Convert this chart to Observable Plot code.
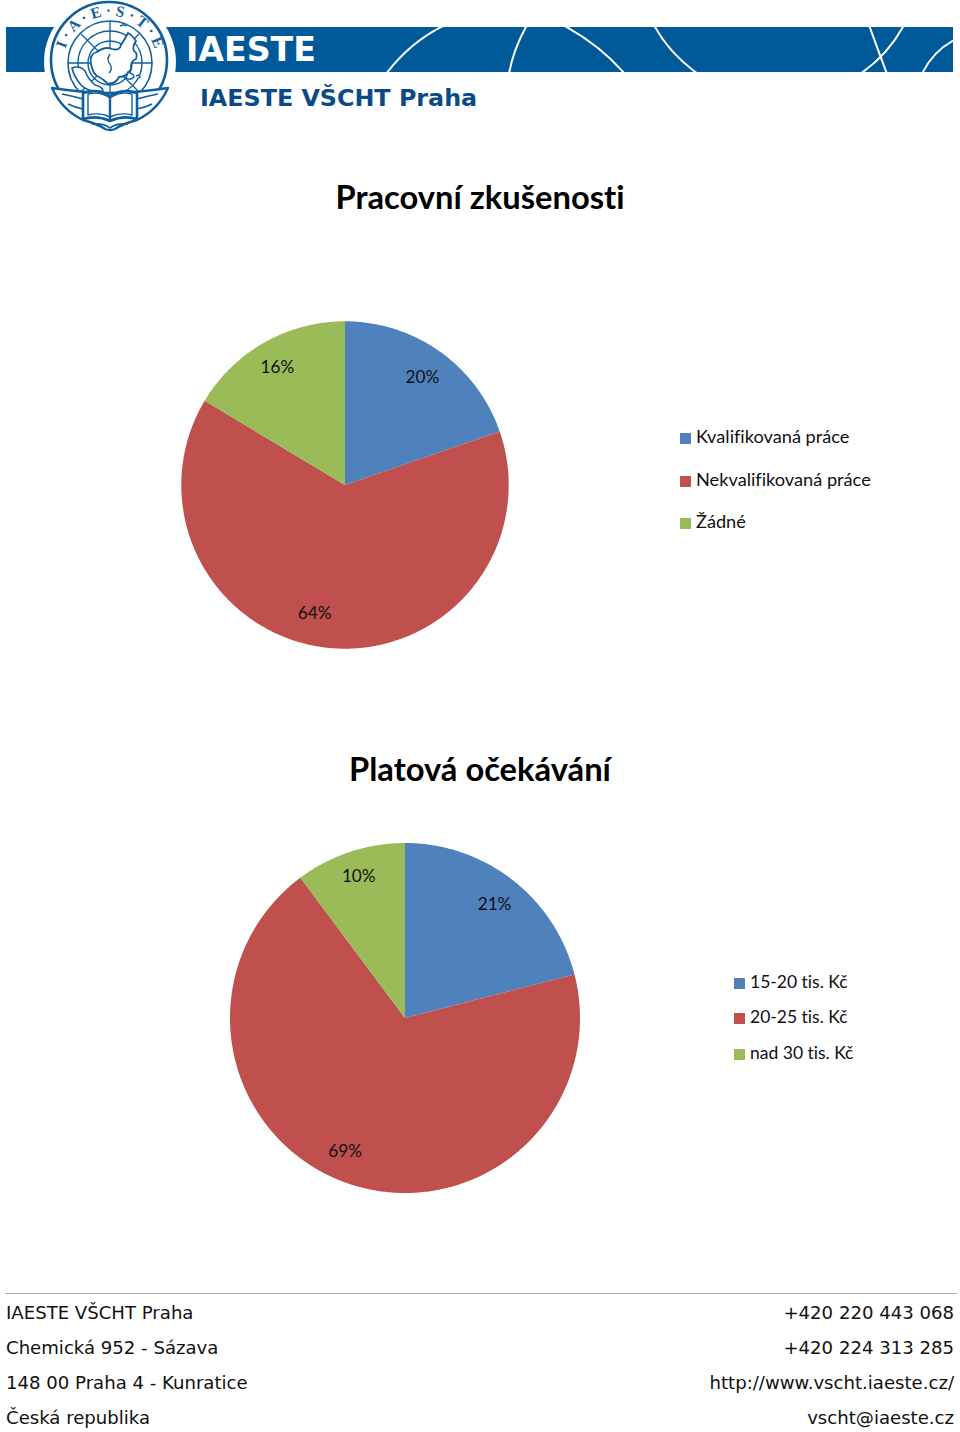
<!DOCTYPE html>
<html lang="cs">
<head>
<meta charset="utf-8">
<title>Pracovní zkušenosti</title>
<script src="https://cdn.jsdelivr.net/npm/d3@7"></script>
<script src="https://cdn.jsdelivr.net/npm/@observablehq/plot@0.6"></script>
<style>
html,body{margin:0;padding:0;background:#fff}
#page{position:relative;width:960px;height:1432px;overflow:hidden;font-variant-ligatures:none}
#page>*{position:absolute}
.title{left:0;width:960px;text-align:center;font:700 32.7px Lato,sans-serif;color:#000;line-height:40px;font-variant-ligatures:none}
.legend{font-family:Lato,sans-serif;color:#111;line-height:20px;white-space:nowrap;font-variant-ligatures:none}
.legend i{display:inline-block;width:11px;height:11px;margin-right:5px;vertical-align:-1px}
.foot{font:18.1px "DejaVu Sans",sans-serif;color:#111;line-height:24px;white-space:nowrap}
.r{right:6px;text-align:right}.l{left:6px}
svg text{font-variant-ligatures:none}
</style>
</head>
<body>
<div id="page">
<svg width="960" height="140" style="left:0;top:0" xmlns="http://www.w3.org/2000/svg">
  <defs>
    <clipPath id="band"><rect x="6" y="27" width="947" height="45"/></clipPath>
    <path id="ringtext" d="M 64 69 A 46.5 46.5 0 1 1 156 69"/>
  </defs>
  <rect x="6" y="27" width="947" height="45" fill="#005a9a"/>
  <g clip-path="url(#band)" fill="none" stroke="#fff" stroke-width="2">
    <path d="M386 74 Q410 42 445 25"/>
    <path d="M509 74 Q513 50 527 25"/>
    <path d="M563 25 Q600 45 625 74"/>
    <path d="M654 25 Q668 52 698 74"/>
    <path d="M869 25 Q878 50 887 74"/>
    <path d="M904 25 Q888 55 860 74"/>
    <path d="M954 40 Q932 52 922 74"/>
  </g>
  <circle cx="110" cy="62" r="66" fill="#fff"/>
  <g fill="none" stroke="#0f5f9f">
    <circle cx="109" cy="60" r="58" stroke-width="2.6"/>
    <circle cx="110" cy="63" r="42" stroke-width="1.6"/>
    <circle cx="110" cy="63" r="32" stroke-width="1.4"/>
    <circle cx="110" cy="63" r="22" stroke-width="1.4"/>
    <path d="M110 21V105M68 63H152M81 34L139 92M139 34L81 92" stroke-width="1.3"/>
    <path d="M91 64q-2-10 6-12q8-6 15-3q8 2 9 -4q4-6 7-12q4 2 8 8q-4 6 -2 10q4 2 2 8q-6 2 -5 10q-4 8 -12 8q-4 8 -12 6q-4-4 -8-6q-6-2 -8-13z" fill="#fff" stroke-width="1.8"/>
    <path d="M72 68q8 -3 13 3q3 8 10 14q8 2 8 6q-14 2 -22 -6q-7 -8 -9 -17z" fill="#fff" stroke-width="1.6"/>
    <path d="M128 72q6 2 6 5q-4 4 -8 1zM136 76q4 -2 4 2M120 26q4-2 7 0" fill="#fff" stroke-width="1.5"/>
    <path d="M110 54q-4 6 0 10q3 5 -1 9" stroke-width="1.4"/>
  </g>
  <text font-family="Liberation Serif" font-size="15.5" fill="#0f5f9f" font-weight="700"><textPath href="#ringtext" startOffset="50%" text-anchor="middle">I · A · E · S · T · E</textPath></text>
  <g fill="#fff" stroke="#0f5f9f" stroke-width="2.4" stroke-linejoin="round">
    <path d="M52 88Q85 93 110 93Q135 93 168 88Q158 110 137 120Q122 124 115 129Q110 131 105 129Q98 124 83 120Q62 110 52 88z"/>
    <path d="M62 94Q72 96 83 99M68 104Q76 108 83 109M158 94Q148 96 137 99M152 104Q144 108 137 109M92 124Q104 123 110 128Q116 123 128 124" fill="none" stroke-width="1.6"/>
    <path d="M83 93Q97 88 110 96Q123 88 137 93V119Q123 115 110 121Q97 115 83 119z" stroke-width="2.6"/>
    <path d="M88 94Q100 91 110 98Q120 91 132 94V115Q120 112 110 117Q100 112 88 115z" stroke-width="1.4"/>
    <path d="M110 96V121" stroke-width="2.4"/>
  </g>
  <text x="186" y="61" font-family="DejaVu Sans" font-weight="700" font-size="33.2" fill="#fff">IAESTE</text>
  <text x="200" y="105.5" font-family="DejaVu Sans" font-weight="700" font-size="23.8" fill="#0a4a86">IAESTE VŠCHT Praha</text>
</svg>
<div class="title" style="top:177px">Pracovní zkušenosti</div>
<div class="title" style="top:749px">Platová očekávání</div>
<div id="pie1" style="left:0;top:280px"></div>
<div id="pie2" style="left:0;top:820px"></div>
<div id="leg1"></div>
<div id="leg2"></div>
<div style="left:5px;top:1293px;width:952px;height:1px;background:#aaa"></div>
<div id="foot"></div>
</div>
<script>
const colors = ["#4f81bd", "#c0504d", "#9bbb59"];

const workCategories = ["Kvalifikovaná práce", "Nekvalifikovaná práce", "Žádné"];
const workValues = [19.7, 63.9, 16.4];

const salaryCategories = ["15-20 tis. Kč", "20-25 tis. Kč", "nad 30 tis. Kč"];
const salaryValues = [21.0, 68.8, 10.2];

const footerLeft = ["IAESTE VŠCHT Praha", "Chemická 952 - Sázava", "148 00 Praha 4 - Kunratice", "Česká republika"];
const footerRight = ["+420 220 443 068", "+420 224 313 285", "http://www.vscht.iaeste.cz/", "vscht@iaeste.cz"];

function pieChart(target, categories, values, o) {
  const arcs = d3.pie().sort(null)(values);
  const total = d3.sum(values);
  const outline = arcs.flatMap((a, i) => {
    const n = Math.ceil((a.endAngle - a.startAngle) / 0.01);
    return d3.range(n + 1).map(k => {
      const t = a.startAngle + (a.endAngle - a.startAngle) * k / n;
      return {category: categories[i], ex: Math.sin(t), ey: Math.cos(t)};
    });
  });
  const labels = arcs.map((a, i) => {
    const m = (a.startAngle + a.endAngle) / 2;
    return {
      text: `${Math.round(values[i] / total * 100)}%`,
      ex: o.labelRadius * Math.sin(m),
      ey: o.labelRadius * Math.cos(m),
      nudge: o.nudges[i]
    };
  });
  const chart = Plot.plot({
    width: 960,
    height: o.height,
    margin: 0,
    x: {domain: [-o.cx / o.r, (960 - o.cx) / o.r], range: [0, 960], axis: null},
    y: {domain: [-(o.height - o.cy) / o.r, o.cy / o.r], range: [o.height, 0], axis: null},
    color: {domain: categories, range: colors},
    marks: [
      Plot.area(outline, {
        x1: () => 0, y1: () => 0,
        x2: "ex", y2: "ey",
        fill: "category", z: "category", curve: "linear"
      }),
      ...labels.map(l => Plot.text([l], {
        x: "ex", y: "ey", text: "text",
        dx: l.nudge[0], dy: l.nudge[1],
        fontFamily: "Lato, sans-serif", fontSize: 17.2, fill: "#111"
      }))
    ]
  });
  document.getElementById(target).append(chart);
}

pieChart("pie1", workCategories, workValues, {
  height: 400, cx: 345, cy: 205, r: 163.7, labelRadius: 0.82,
  nudges: [[-1, 1], [-17, -6], [-2, -1]]
});
pieChart("pie2", salaryCategories, salaryValues, {
  height: 400, cx: 405, cy: 198, r: 175, labelRadius: 0.83,
  nudges: [[0, 1], [-12, -4], [-1, -4]]
});

function legend(target, categories, left, tops, size) {
  const host = document.getElementById(target);
  host.style.cssText = "left:0;top:0";
  categories.forEach((c, i) => {
    const row = document.createElement("div");
    row.className = "legend";
    row.style.cssText = `position:absolute;left:${left}px;top:${tops[i]}px;font-size:${size}px`;
    const sw = document.createElement("i");
    sw.style.background = colors[i];
    row.append(sw, c);
    host.append(row);
  });
}
legend("leg1", workCategories, 680, [426, 469, 511], 18.2);
legend("leg2", salaryCategories, 734, [972, 1007, 1043], 17.5);

const foot = document.getElementById("foot");
foot.style.cssText = "left:0;top:0;width:960px";
[[footerLeft, "l"], [footerRight, "r"]].forEach(([lines, side]) => {
  lines.forEach((t, i) => {
    const d = document.createElement("div");
    d.className = `foot ${side}`;
    d.style.cssText = `position:absolute;top:${1301 + 35 * i}px`;
    d.textContent = t;
    foot.append(d);
  });
});
</script>
</body>
</html>
